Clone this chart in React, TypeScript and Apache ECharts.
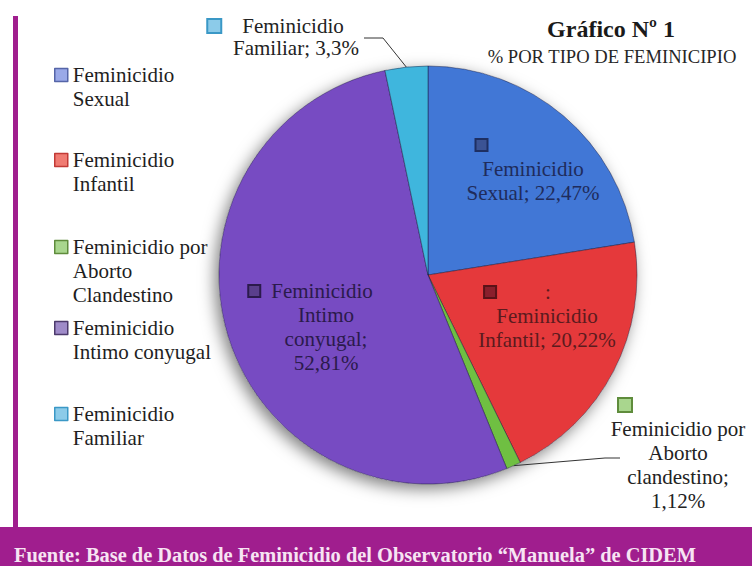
import React, { useEffect, useRef } from 'react';
import * as echarts from 'echarts';

// ---------- data ----------
const categories = [
  'Feminicidio Sexual',
  'Feminicidio Infantil',
  'Feminicidio por Aborto Clandestino',
  'Feminicidio Intimo conyugal',
  'Feminicidio Familiar',
];
const values = [22.47, 20.22, 1.12, 52.81, 3.3];
const legendLabels = [
  'Feminicidio\nSexual',
  'Feminicidio\nInfantil',
  'Feminicidio por\nAborto\nClandestino',
  'Feminicidio\nIntimo conyugal',
  'Feminicidio\nFamiliar',
];
const sliceLabelNames = [
  'Feminicidio\nSexual',
  'Feminicidio\nInfantil',
  'Feminicidio por\nAborto\nclandestino',
  'Feminicidio\nIntimo\nconyugal',
  'Feminicidio\nFamiliar',
];
const pctOnNewLine = [false, false, true, true, false];
const titleText = 'Gráfico Nº 1';
const subtitleText = '% POR TIPO DE FEMINICIPIO';
const footerText = 'Fuente: Base de Datos de Feminicidio del Observatorio \u201cManuela\u201d de CIDEM';

// ---------- styles ----------
const SERIF = '"Liberation Serif", "Times New Roman", serif';
const sliceColors = ['#4177d6', '#e5393b', '#6fbf42', '#774bc2', '#3fb6dd'];
const legendFill = ['#9aa9e8', '#f07b72', '#a9d68e', '#9f8bc9', '#8ccbe9'];
const legendBorder = ['#5565a8', '#c23a36', '#5f8c3c', '#4c3a6c', '#3a98c6'];
const labelColors = ['#1f2c5c', '#5c1b1e', '#222222', '#2b1a4c', '#222222'];
const markerFill = ['#3b5394', '#8a1f2c', '#a9d68e', '#5a3f8c', '#8ccbe9'];
const markerBorder = ['#1e2f62', '#5a1218', '#5f8c3c', '#2b1a4c', '#3a98c6'];
const PURPLE = '#a01e8e';

const CENTER = [428, 275];
const RADIUS = 209;
const LABEL_POS = [
  { x: 533, top: 133, inside: true },
  { x: 547, top: 280, inside: true },
  { x: 678, top: 393, inside: false },
  { x: 326, top: 279, inside: true },
  { x: 296, top: 15, inside: false },
];
const LEGEND_ICON_CENTER = [75, 160, 247, 328, 414];
const LEGEND_LH = 24;

const fmtPct = (v: number) => String(v).replace('.', ',') + '%';

function buildLabel(i: number) {
  const lh = i === 4 ? 22 : 24;
  const text = sliceLabelNames[i] + ';' + (pctOnNewLine[i] ? '\n' : ' ') + fmtPct(values[i]);
  const lines = text.split('\n');
  const big = i === 2 || i === 4;
  const rich: any = {
    m: {
      width: big ? 12 : 10,
      height: big ? 12 : 10,
      backgroundColor: markerFill[i],
      borderColor: markerBorder[i],
      borderWidth: 2,
      lineHeight: lh,
    },
  };
  if (i === 0) {
    lines.unshift('{m|}{p|}');
    rich.p = { width: 103, lineHeight: lh };
  } else if (i === 1) {
    lines.unshift('{m|}{a|}:{b|}');
    rich.a = { width: 50, lineHeight: lh };
    rich.b = { width: 58, lineHeight: lh };
  } else if (i === 2) {
    lines.unshift('{m|}{p|}');
    rich.p = { width: 106, lineHeight: lh };
  } else if (i === 3) {
    lines[0] = '{m|}{g|}' + lines[0] + '{p|}';
    rich.g = { width: 12, lineHeight: lh };
    rich.p = { width: 30, lineHeight: lh };
  } else {
    lines[0] = '{m|}{g|}' + lines[0] + '{p|}';
    rich.g = { width: 22, lineHeight: lh };
    rich.p = { width: 40, lineHeight: lh };
  }
  return {
    show: true,
    position: LABEL_POS[i].inside ? 'inside' : 'outside',
    formatter: lines.join('\n'),
    fontFamily: SERIF,
    fontSize: 21,
    lineHeight: lh,
    color: labelColors[i],
    rich,
  };
}

export default function App() {
  const ref = useRef<HTMLDivElement>(null);
  useEffect(() => {
    if (!ref.current) return;
    const chart = echarts.init(ref.current, null, { renderer: 'svg' });
    const option: any = {
      animation: false,
      backgroundColor: '#ffffff',
      legend: categories.map((name, i) => {
        const n = legendLabels[i].split('\n').length;
        // blank lines above so that the icon (centred on the text block) sits on the first line
        const shown = '\u00a0\n'.repeat(n - 1) + legendLabels[i];
        return {
          orient: 'vertical',
          left: 54,
          top: LEGEND_ICON_CENTER[i] - (2 * n - 1) * (LEGEND_LH / 2),
          padding: 0,
          selectedMode: false,
          data: [name],
          icon: 'rect',
          itemWidth: 13,
          itemHeight: 13,
          itemStyle: { color: legendFill[i], borderColor: legendBorder[i], borderWidth: 1.5 },
          formatter: () => shown,
          textStyle: {
            fontFamily: SERIF,
            fontSize: 21,
            lineHeight: LEGEND_LH,
            color: '#1e1e1e',
          },
        };
      }),
      graphic: [
        { type: 'rect', shape: { x: 13, y: 16, width: 5, height: 511 }, style: { fill: PURPLE }, silent: true },
        { type: 'rect', shape: { x: 0, y: 527, width: 752, height: 39 }, style: { fill: PURPLE }, silent: true },
        {
          type: 'text', x: 14, y: 555, silent: true,
          style: { text: footerText, fill: '#f7e4f3', font: `bold 20.4px ${SERIF}`, align: 'left', verticalAlign: 'middle' },
        },
        {
          type: 'text', x: 611, y: 29, silent: true,
          style: { text: titleText, fill: '#1a1a1a', font: `bold 24px ${SERIF}`, align: 'center', verticalAlign: 'middle' },
        },
        {
          type: 'text', x: 612, y: 56, silent: true,
          style: { text: subtitleText, fill: '#262626', font: `18.6px ${SERIF}`, align: 'center', verticalAlign: 'middle' },
        },
      ],
      series: [
        {
          type: 'pie',
          silent: true,
          center: CENTER,
          radius: RADIUS,
          z: 1,
          label: { show: false },
          labelLine: { show: false },
          data: [
            {
              value: 1,
              name: '',
              itemStyle: {
                color: '#ffffff',
                shadowBlur: 16,
                shadowColor: 'rgba(0,0,0,0.5)',
                shadowOffsetX: -4,
                shadowOffsetY: 5,
              },
            },
          ],
        },
        {
          type: 'pie',
          center: CENTER,
          radius: RADIUS,
          startAngle: 90,
          clockwise: true,
          z: 2,
          avoidLabelOverlap: false,
          itemStyle: { borderColor: 'rgba(20,20,50,0.45)', borderWidth: 1 },
          labelLine: { show: true, lineStyle: { color: '#333333', width: 1 }, length: 20, length2: 20 },
          data: categories.map((name, i) => ({
            name,
            value: values[i],
            itemStyle: { color: sliceColors[i] },
            label: buildLabel(i),
            labelLine: { show: !LABEL_POS[i].inside },
          })),
          labelLayout: (params: any) => {
            const i = params.dataIndex;
            const pos = LABEL_POS[i];
            if (!pos) return {};
            const res: any = { x: pos.x, y: pos.top, align: 'center', verticalAlign: 'top' };
            const pts = params.labelLinePoints;
            if (!pos.inside && pts && pts.length) {
              const p0 = pts[0];
              if (i === 4) {
                res.labelLinePoints = [p0, [pos.x + 87, pos.top + 23], [pos.x + 68, pos.top + 23]];
              } else {
                res.labelLinePoints = [p0, [pos.x - 73, pos.top + 65], [pos.x - 58, pos.top + 65]];
              }
            }
            return res;
          },
        },
      ],
    };
    chart.setOption(option);
    return () => chart.dispose();
  }, []);
  return (
    <div
      ref={ref}
      style={{ position: 'absolute', left: 0, top: 0, width: 752, height: 566 }}
    />
  );
}
